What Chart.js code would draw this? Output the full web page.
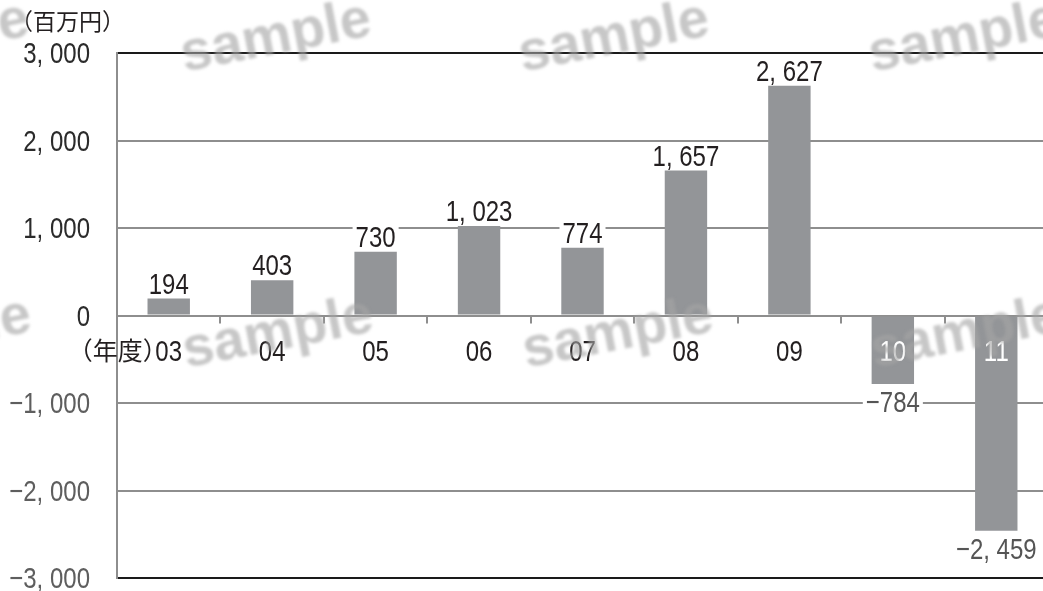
<!DOCTYPE html>
<html lang="ja">
<head>
<meta charset="UTF-8">
<title>業績推移</title>
<script src="https://cdn.jsdelivr.net/npm/chart.js"></script>
<style>
  html, body { margin: 0; padding: 0; background: #fff; overflow: hidden; }
  canvas { display: block; }
</style>
</head>
<body>
<canvas id="chart" width="1050" height="591"></canvas>
<script>
const years = ['03', '04', '05', '06', '07', '08', '09', '10', '11']
const values = [194, 403, 730, 1023, 774, 1657, 2627, -784, -2459]
const yTicks = [-3000, -2000, -1000, 0, 1000, 2000, 3000]
const unitLabel = '（百万円）'
const yearLabel = '（年度）'
const watermark = 'sample'

const NUMFONT = '"Liberation Sans", Arial, sans-serif'
const CJK = '"Noto Sans CJK JP", sans-serif'
const BAR = '#939598'
const GRID = '#8e8e8e'
const INK = '#231f20'
const SQUEEZE = 0.8

const fmt = (v) => {
  const s = Math.abs(v).toLocaleString('en-US').replace(',', ', ')
  return (v < 0 ? '−' : '') + s
}

// draw condensed text: the original uses a narrow gothic face
function narrowText(ctx, txt, x, y, align) {
  ctx.save()
  ctx.translate(x, y)
  ctx.scale(SQUEEZE, 1)
  ctx.textAlign = align
  ctx.fillText(txt, 0, 0)
  ctx.restore()
}
function narrowWidth(ctx, txt) {
  return ctx.measureText(txt).width * SQUEEZE
}

const decorations = {
  id: 'decorations',
  afterDatasetsDraw(chart) {
    const { ctx, chartArea, scales: { x, y } } = chart
    const y0 = y.getPixelForValue(0)
    const step = (chartArea.right - chartArea.left) / years.length
    ctx.save()

    // small ticks under the zero line
    ctx.strokeStyle = GRID
    ctx.lineWidth = 2
    for (let i = 1; i < years.length; i++) {
      const px = Math.round(chartArea.left + i * step)
      ctx.beginPath()
      ctx.moveTo(px, y0)
      ctx.lineTo(px, y0 + 8)
      ctx.stroke()
    }

    // y tick labels
    ctx.font = '30px ' + NUMFONT
    ctx.textBaseline = 'alphabetic'
    yTicks.forEach((v) => {
      ctx.fillStyle = v < 0 ? '#5e5e5e' : '#2b2b2b'
      narrowText(ctx, fmt(v), 90, y.getPixelForValue(v) + 10, 'right')
    })

    // category labels beside the zero line
    ctx.font = '30px ' + NUMFONT
    years.forEach((yr, i) => {
      ctx.fillStyle = values[i] < 0 ? '#ffffff' : INK
      narrowText(ctx, yr, x.getPixelForValue(i), y0 + 45, 'center')
    })
    ctx.font = '25px ' + CJK
    ctx.fillStyle = INK
    ctx.textAlign = 'right'
    ctx.fillText(yearLabel, x.getPixelForValue(0) - 1, y0 + 44)

    // value labels with white box
    const meta = chart.getDatasetMeta(0)
    ctx.font = '30px ' + NUMFONT
    meta.data.forEach((bar, i) => {
      const v = values[i]
      const txt = fmt(v)
      const base = v >= 0 ? bar.y - 5 : bar.y + 28
      const w = narrowWidth(ctx, txt) + 6
      ctx.fillStyle = '#ffffff'
      ctx.fillRect(bar.x - w / 2, base - 22, w, 24)
      ctx.fillStyle = v >= 0 ? INK : '#555555'
      narrowText(ctx, txt, bar.x, base, 'center')
    })

    // unit label
    ctx.font = '23px ' + CJK
    ctx.fillStyle = INK
    ctx.textAlign = 'left'
    ctx.textBaseline = 'middle'
    ctx.fillText(unitLabel, 10, 21)
    ctx.restore()
  },
  afterDraw(chart) {
    const { ctx } = chart
    const spots = [[-66, 38], [276, 38], [614, 38], [964, 38], [-64, 334], [278, 334], [618, 334], [966, 334]]
    ctx.save()
    ctx.filter = 'blur(1.5px)'
    ctx.fillStyle = 'rgba(165,165,165,0.62)'
    ctx.font = 'bold 56px "Liberation Sans", Arial, sans-serif'
    ctx.textAlign = 'center'
    ctx.textBaseline = 'middle'
    spots.forEach(([cx, cy]) => {
      ctx.save()
      ctx.translate(cx, cy)
      ctx.rotate(-11 * Math.PI / 180)
      ctx.fillText(watermark, 0, 0)
      ctx.restore()
    })
    ctx.restore()
  },
}

new Chart(document.getElementById('chart'), {
  type: 'bar',
  data: {
    labels: years,
    datasets: [{
      data: values,
      backgroundColor: BAR,
      borderWidth: 0,
      categoryPercentage: 1,
      barPercentage: 0.41,
    }],
  },
  options: {
    responsive: false,
    animation: false,
    layout: { padding: { left: 0, top: 53, right: 2, bottom: 13 } },
    plugins: { legend: { display: false }, tooltip: { enabled: false } },
    scales: {
      x: { display: false },
      y: {
        min: yTicks[0],
        max: yTicks[yTicks.length - 1],
        afterFit: (s) => { s.width = 117 },
        afterBuildTicks: (s) => { s.ticks = yTicks.map((v) => ({ value: v })) },
        border: { display: true, color: GRID, width: 2 },
        grid: {
          drawTicks: false,
          lineWidth: 2,
          color: (c) => (Math.abs(c.tick.value) === 3000 ? '#1a1a1a' : GRID),
        },
        ticks: { display: false },
      },
    },
  },
  plugins: [decorations],
})
</script>
</body>
</html>
